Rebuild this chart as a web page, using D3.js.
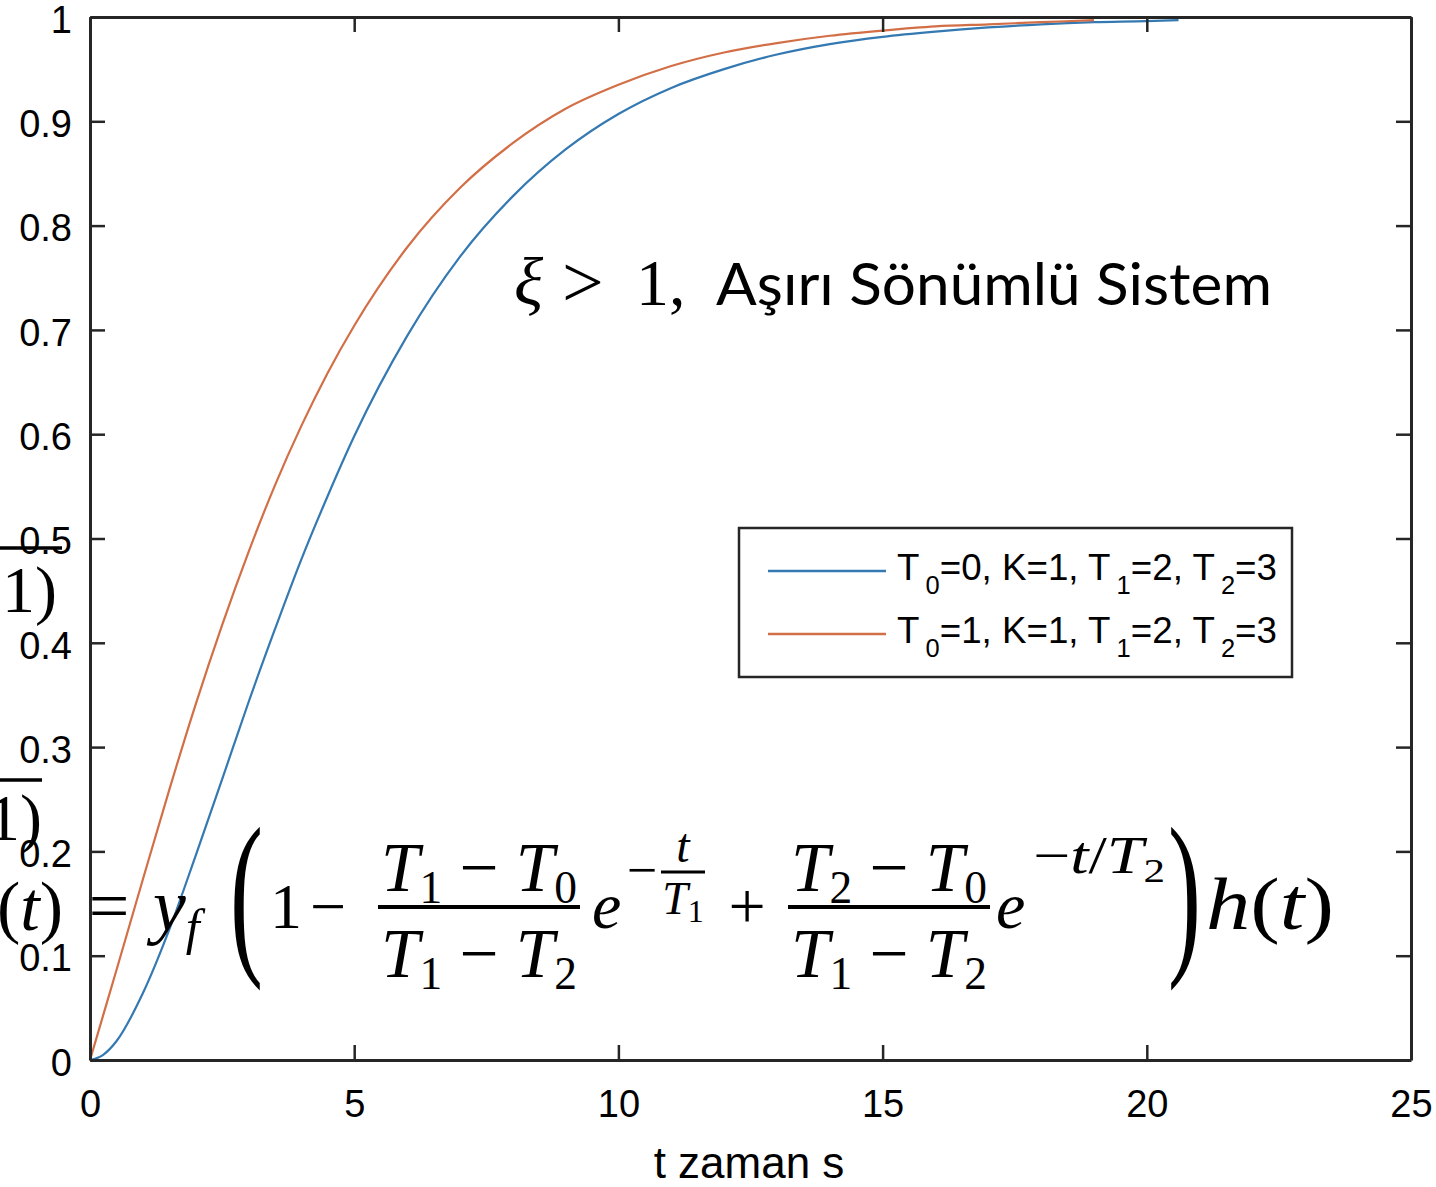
<!DOCTYPE html>
<html>
<head>
<meta charset="utf-8">
<script src="https://cdn.jsdelivr.net/npm/d3@7"></script>
<style>
  body { margin: 0; background: #fff; }
  svg text { fill: #000; }
</style>
</head>
<body>
<div id="chart"></div>
<script>
// values
const timeS = [0, 0.25, 0.5, 1, 1.5, 2, 2.5, 3, 3.5, 4, 4.5, 5, 6, 7, 8, 9, 10, 11, 12, 13, 14, 15, 16, 17, 18, 19, 20, 20.6];
const blueY = [0, 0.005, 0.018, 0.064, 0.125, 0.196, 0.269, 0.343, 0.413, 0.480, 0.541, 0.598, 0.694, 0.770, 0.828, 0.873, 0.907, 0.932, 0.950, 0.964, 0.974, 0.981, 0.986, 0.990, 0.993, 0.995, 0.996, 0.997];
const orangeY = [0, 0.043, 0.086, 0.173, 0.259, 0.341, 0.417, 0.487, 0.551, 0.608, 0.659, 0.704, 0.779, 0.836, 0.879, 0.912, 0.935, 0.953, 0.966, 0.975, 0.982, 0.987, 0.991, 0.993, 0.995, 0.997];
const xTicks = [0, 5, 10, 15, 20, 25];
const xTickLabels = ["0", "5", "10", "15", "20", "25"];
const yTicks = [0, 0.1, 0.2, 0.3, 0.4, 0.5, 0.6, 0.7, 0.8, 0.9, 1];
const yTickLabels = ["0", "0.1", "0.2", "0.3", "0.4", "0.5", "0.6", "0.7", "0.8", "0.9", "1"];
const seriesNames = [["0", "1", "2", "3"], ["1", "1", "2", "3"]]; // T0, K, T1, T2
const seriesColors = ["#3479b2", "#d26f47"];

const W = 1436, H = 1187;
const plot = { left: 90, right: 1411, top: 17, bottom: 1060 };
const axisColor = "#262626";
const tickFont = "'Liberation Sans', Arial, sans-serif";
const mathFont = "'Liberation Serif', 'Times New Roman', serif";

const svg = d3.select("#chart").append("svg")
  .attr("width", W).attr("height", H)
  .style("display", "block");

const x = d3.scaleLinear().domain([0, 25]).range([plot.left, plot.right]);
const y = d3.scaleLinear().domain([0, 1]).range([plot.bottom, plot.top]);

// curves
const line = d3.line().curve(d3.curveMonotoneX).x(d => x(d[0])).y(d => y(d[1]));
const blueData = timeS.map((t, i) => [t, blueY[i]]);
const orangeData = timeS.slice(0, orangeY.length).map((t, i) => [t, orangeY[i]]);

svg.append("path").datum(blueData)
  .attr("d", line).attr("fill", "none")
  .attr("stroke", seriesColors[0]).attr("stroke-width", 2.2);
svg.append("path").datum(orangeData)
  .attr("d", line).attr("fill", "none")
  .attr("stroke", seriesColors[1]).attr("stroke-width", 2.2);

// axes, inward ticks on all four sides
function styleAxis(g) {
  g.select(".domain").attr("stroke", axisColor).attr("stroke-width", 3);
  g.selectAll(".tick line").attr("stroke", axisColor).attr("stroke-width", 2.5);
  g.selectAll(".tick text")
    .style("font-family", tickFont).style("font-size", "38px").attr("fill", "#4a4a4a");
}

svg.append("g")
  .attr("transform", `translate(0,${plot.bottom})`)
  .call(d3.axisBottom(x).tickValues(xTicks).tickSizeInner(-15).tickSizeOuter(0).tickPadding(30)
    .tickFormat((d, i) => xTickLabels[i]))
  .call(styleAxis);

svg.append("g")
  .attr("transform", `translate(${plot.left},0)`)
  .call(d3.axisLeft(y).tickValues(yTicks).tickSizeInner(-15).tickSizeOuter(0).tickPadding(18)
    .tickFormat((d, i) => yTickLabels[i]))
  .call(styleAxis)
  .selectAll(".tick text").attr("dy", "0.4em");

svg.append("g")
  .attr("transform", `translate(0,${plot.top})`)
  .call(d3.axisTop(x).tickValues(xTicks).tickSizeInner(-15).tickSizeOuter(0).tickFormat(""))
  .call(styleAxis);

svg.append("g")
  .attr("transform", `translate(${plot.right},0)`)
  .call(d3.axisRight(y).tickValues(yTicks).tickSizeInner(-15).tickSizeOuter(0).tickFormat(""))
  .call(styleAxis);

// x label
svg.append("text")
  .attr("x", 749).attr("y", 1178)
  .attr("text-anchor", "middle")
  .style("font-family", tickFont).style("font-size", "44px")
  .attr("fill", "#4a4a4a")
  .text("t zaman s");

// legend
const legend = svg.append("g");
legend.append("rect")
  .attr("x", 739).attr("y", 528).attr("width", 553).attr("height", 149)
  .attr("fill", "#fff").attr("stroke", axisColor).attr("stroke-width", 2.5);

seriesNames.forEach((vals, i) => {
  const ly = 571 + i * 63;
  legend.append("line")
    .attr("x1", 768).attr("x2", 886).attr("y1", ly).attr("y2", ly)
    .attr("stroke", seriesColors[i]).attr("stroke-width", 2.5);
  const t = legend.append("text")
    .attr("x", 897).attr("y", ly + 9)
    .attr("textLength", 380).attr("lengthAdjust", "spacingAndGlyphs")
    .style("font-family", tickFont).style("font-size", "36px").attr("fill", "#262626");
  const sub = (s) => t.append("tspan").attr("dx", 6).attr("dy", 14).style("font-size", "25px").text(s);
  const back = (s) => t.append("tspan").attr("dy", -14).text(s);
  t.append("tspan").text("T");
  sub("0");
  back(`=${vals[0]}, K=${vals[1]}, T`);
  sub("1");
  back(`=${vals[2]}, T`);
  sub("2");
  back(`=${vals[3]}`);
});

// annotation: ξ > 1, Aşırı Sönümlü Sistem
const ann = svg.append("g");
ann.append("text").attr("x", 514).attr("y", 305)
  .style("font-family", mathFont).style("font-size", "68px").style("font-style", "italic")
  .text("ξ");
ann.append("text").attr("x", 562).attr("y", 307)
  .style("font-family", mathFont).style("font-size", "74px")
  .text(">");
ann.append("text").attr("x", 636).attr("y", 305)
  .style("font-family", mathFont).style("font-size", "66px")
  .text("1,");
ann.append("text").attr("x", 716).attr("y", 305)
  .attr("textLength", 556).attr("lengthAdjust", "spacingAndGlyphs")
  .style("font-family", "Lato, 'Open Sans', sans-serif").style("font-size", "58px")
  .text("Aşırı Sönümlü Sistem");

// equation overlay
const eq = svg.append("g").style("font-family", mathFont);
function mtext(xp, yp, size, anchor) {
  return eq.append("text").attr("x", xp).attr("y", yp)
    .attr("text-anchor", anchor || "start").style("font-size", size + "px");
}
function part(t, s, italic, dy, size) {
  const ts = t.append("tspan").text(s);
  if (italic) ts.style("font-style", "italic");
  if (dy) ts.attr("dy", dy);
  if (size) ts.style("font-size", size + "px");
  return ts;
}

// left fragments (cut off at the edge)
eq.append("line").attr("x1", 0).attr("x2", 62).attr("y1", 548).attr("y2", 548)
  .attr("stroke", "#000").attr("stroke-width", 3.5);
{ const t = mtext(2, 612, 66); part(t, "1)"); }
eq.append("line").attr("x1", 0).attr("x2", 42).attr("y1", 780).attr("y2", 780)
  .attr("stroke", "#000").attr("stroke-width", 3.5);
{ const t = mtext(-13, 840, 66); part(t, "1)"); }

{ const t = mtext(-3, 930, 70); part(t, "("); part(t, "t", true); part(t, ")"); }
mtext(109, 930, 72, "middle").text("=");
{ const t = mtext(153, 930, 74); part(t, "y", true); part(t, "f", true, 14, 50); }

function bigParen(xp, s) {
  eq.append("text").attr("transform", `translate(${xp},952) scale(0.55,1)`)
    .style("font-size", "180px").text(s);
}
bigParen(230, "(");
mtext(270, 928, 64).text("1");
mtext(328, 928, 64, "middle").text("−");

function frac(cx, x1, x2, topA, topB, botA, botB) {
  const n = mtext(cx, 891, 70, "middle").attr("textLength", x2 - x1 - 6).attr("lengthAdjust", "spacingAndGlyphs");
  part(n, "T", true); part(n, topA, false, 12, 46); part(n, " − ", false, -12); part(n, "T", true); part(n, topB, false, 12, 46);
  eq.append("line").attr("x1", x1).attr("x2", x2).attr("y1", 907).attr("y2", 907)
    .attr("stroke", "#000").attr("stroke-width", 4);
  const d = mtext(cx, 977, 70, "middle").attr("textLength", x2 - x1 - 6).attr("lengthAdjust", "spacingAndGlyphs");
  part(d, "T", true); part(d, botA, false, 12, 46); part(d, " − ", false, -12); part(d, "T", true); part(d, botB, false, 12, 46);
}
frac(479, 378, 580, "1", "0", "1", "2");
mtext(592, 928, 66).style("font-style", "italic").text("e");
mtext(642, 888, 54, "middle").text("−");
mtext(683, 862, 48, "middle").style("font-style", "italic").text("t");
eq.append("line").attr("x1", 661).attr("x2", 705).attr("y1", 872).attr("y2", 872)
  .attr("stroke", "#000").attr("stroke-width", 3);
{ const t = mtext(683, 914, 46, "middle"); part(t, "T", true); part(t, "1", false, 8, 32); }
mtext(747, 928, 66, "middle").text("+");

frac(889, 788, 990, "2", "0", "1", "2");
mtext(996, 928, 66).style("font-style", "italic").text("e");
{
  const t = mtext(1033, 873, 52).attr("textLength", 132).attr("lengthAdjust", "spacingAndGlyphs");
  part(t, "−"); part(t, "t", true); part(t, "/"); part(t, "T", true); part(t, "2", false, 9, 34);
}
bigParen(1168, ")");
{
  const t = mtext(1206, 929, 74).attr("textLength", 128).attr("lengthAdjust", "spacingAndGlyphs");
  part(t, "h", true); part(t, "("); part(t, "t", true); part(t, ")");
}
</script>
</body>
</html>
